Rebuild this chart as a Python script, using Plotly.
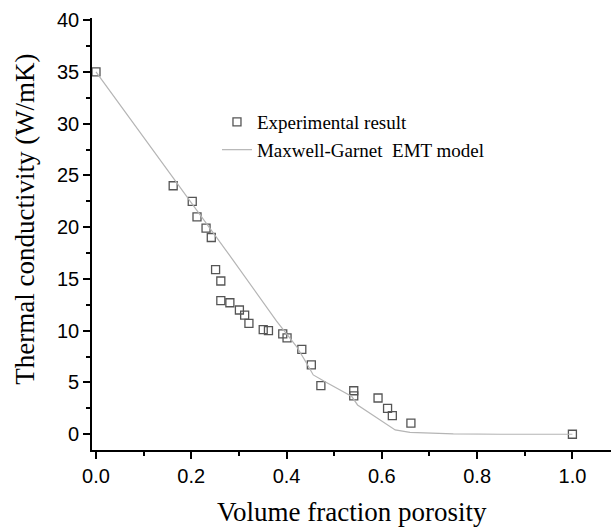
import plotly.graph_objects as go

# Experimental data
exp_x = [0.0, 0.162, 0.202, 0.212, 0.231, 0.242, 0.251, 0.262, 0.262, 0.281, 0.301,
         0.312, 0.321, 0.351, 0.362, 0.392, 0.401, 0.432, 0.452, 0.472, 0.541, 0.541,
         0.592, 0.612, 0.622, 0.661, 1.0]
exp_y = [35.0, 24.0, 22.5, 21.0, 19.9, 19.0, 15.9, 14.8, 12.9, 12.7, 12.0,
         11.5, 10.7, 10.1, 10.0, 9.7, 9.3, 8.2, 6.7, 4.7, 4.2, 3.7,
         3.5, 2.5, 1.8, 1.07, 0.0]

# Maxwell-Garnet EMT model curve
model_x = [0.0, 0.1, 0.2, 0.288, 0.379, 0.421, 0.442, 0.456, 0.48, 0.512, 0.537,
           0.549, 0.575, 0.603, 0.628, 0.659, 0.701, 0.75, 0.85, 1.0]
model_y = [35.0, 28.7, 22.4, 16.8, 10.93, 8.47, 6.87, 5.73, 5.09, 4.28, 3.64,
           2.83, 2.03, 1.22, 0.42, 0.19, 0.1, 0.03, 0.0, 0.0]

x_ticks = [0.0, 0.2, 0.4, 0.6, 0.8, 1.0]
x_ticktext = ["0.0", "0.2", "0.4", "0.6", "0.8", "1.0"]
y_ticks = [0, 5, 10, 15, 20, 25, 30, 35, 40]

serif = "Liberation Serif, Times New Roman, serif"
sans = "Liberation Sans, Arial, sans-serif"

fig = go.Figure()
fig.add_trace(go.Scatter(
    x=exp_x, y=exp_y, mode="markers", name="Experimental result",
    marker=dict(symbol="square-open", size=8, color="#555555",
                line=dict(width=1.3, color="#555555")),
))
fig.add_trace(go.Scatter(
    x=model_x, y=model_y, mode="lines", name="Maxwell-Garnet  EMT model",
    line=dict(color="#b5b5b5", width=1.2),
))

axis_common = dict(
    showline=True, linecolor="black", linewidth=1.6, mirror=False,
    showgrid=False, zeroline=False, ticks="outside", ticklen=7, tickwidth=1.6,
    tickcolor="black",
    tickfont=dict(family=sans, size=20, color="black"),
)

fig.update_layout(
    width=611, height=531,
    margin=dict(l=92, r=0, t=18, b=81),
    paper_bgcolor="white", plot_bgcolor="white",
    showlegend=True,
    legend=dict(x=0.2408, y=0.803, xanchor="left", yanchor="top",
                bgcolor="rgba(0,0,0,0)", borderwidth=0,
                font=dict(family=serif, size=19, color="black"),
                tracegroupgap=0),
    xaxis=dict(
        range=[-0.0084, 1.081], tickvals=x_ticks, ticktext=x_ticktext,
        minor=dict(tickvals=[0.1, 0.3, 0.5, 0.7, 0.9], ticks="outside", ticklen=4,
                   tickwidth=1.6, tickcolor="black", showgrid=False),
        **axis_common,
    ),
    yaxis=dict(
        range=[-1.52, 40.2], tickvals=y_ticks,
        minor=dict(tickvals=[2.5, 7.5, 12.5, 17.5, 22.5, 27.5, 32.5, 37.5], ticks="outside",
                   ticklen=4, tickwidth=1.6, tickcolor="black", showgrid=False),
        **axis_common,
    ),
    annotations=[
        dict(text="Volume fraction porosity", xref="paper", yref="paper",
             x=0.5, y=-0.1435, xanchor="center", yanchor="middle", showarrow=False,
             font=dict(family=serif, size=27, color="black")),
        dict(text="Thermal conductivity (W/mK)", xref="paper", yref="paper",
             x=-0.129, y=0.533, xanchor="center", yanchor="middle", showarrow=False,
             textangle=-90, font=dict(family=serif, size=27, color="black")),
    ],
)

fig.write_html("out.html")
